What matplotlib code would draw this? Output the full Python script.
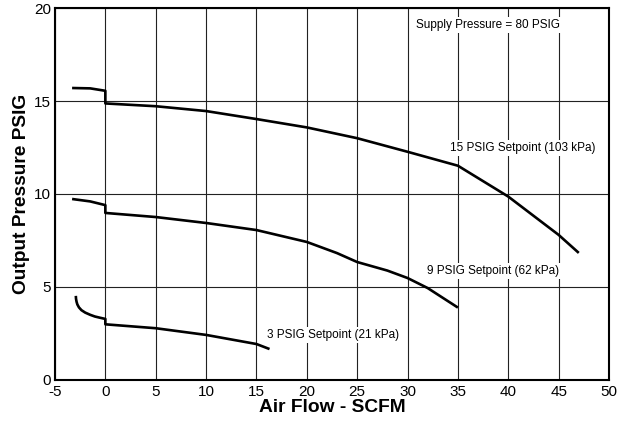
import numpy as np
import matplotlib.pyplot as plt

plt.rcParams['font.family'] = ['Liberation Sans', 'DejaVu Sans']
plt.rcParams['axes.unicode_minus'] = False

# 15 PSIG setpoint curve (step at zero flow)
x15 = [-3.3, -1.5, 0, 0, 5, 10, 15, 20, 25, 30, 35, 40, 45, 47]
y15 = [15.7, 15.68, 15.55, 14.87, 14.72, 14.46, 14.03, 13.58, 13.0, 12.27, 11.52, 9.86, 7.8, 6.83]

# 9 PSIG setpoint curve
x9 = [-3.3, -1.5, 0, 0, 5, 10, 15, 20, 23, 25, 28, 30, 32, 35]
y9 = [9.73, 9.6, 9.4, 8.98, 8.76, 8.44, 8.06, 7.42, 6.82, 6.34, 5.88, 5.48, 4.94, 3.89]

# 3 PSIG setpoint curve
x3 = [-2.93, -2.91, -2.86, -2.78, -2.62, -2.37, -2.0, -1.5, -1.04, -0.5, 0, 0, 5, 10, 15, 16.3]
y3 = [4.52, 4.36, 4.21, 4.06, 3.9, 3.75, 3.62, 3.5, 3.41, 3.34, 3.28, 2.99, 2.78, 2.42, 1.93, 1.66]

xticks = list(range(-5, 51, 5))
yticks = [0, 5, 10, 15, 20]

fig = plt.figure(figsize=(6.29, 4.24), dpi=100)
ax = fig.add_axes([0.0874, 0.104, 0.8808, 0.877])

ax.set_xlim(-5, 50)
ax.set_ylim(0, 20)
ax.set_xticks(xticks)
ax.set_yticks(yticks)
ax.tick_params(length=0, labelsize=11)
ax.tick_params(axis='x', pad=3.5)
ax.tick_params(axis='y', pad=3)
ax.grid(True, color='#222222', linewidth=0.8)
ax.set_axisbelow(True)
for s in ax.spines.values():
    s.set_linewidth(1.5)

for xs, ys in [(x15, y15), (x9, y9), (x3, y3)]:
    ax.plot(xs, ys, color='black', linewidth=1.9, solid_capstyle='butt')

box = dict(facecolor='white', edgecolor='none', pad=1.5)
ax.text(38.0, 19.1, 'Supply Pressure = 80 PSIG', fontsize=8.5, ha='center', va='center', bbox=box)
ax.text(41.4, 12.47, '15 PSIG Setpoint (103 kPa)', fontsize=8.5, ha='center', va='center', bbox=box)
ax.text(38.5, 5.86, '9 PSIG Setpoint (62 kPa)', fontsize=8.5, ha='center', va='center', bbox=box)
ax.text(22.6, 2.42, '3 PSIG Setpoint (21 kPa)', fontsize=8.5, ha='center', va='center', bbox=box)

ax.set_xlabel('Air Flow - SCFM', fontsize=13.8, fontweight='bold', labelpad=0)
ax.set_ylabel('Output Pressure PSIG', fontsize=13.8, fontweight='bold', labelpad=3)

fig.savefig('out.png', dpi=100)
